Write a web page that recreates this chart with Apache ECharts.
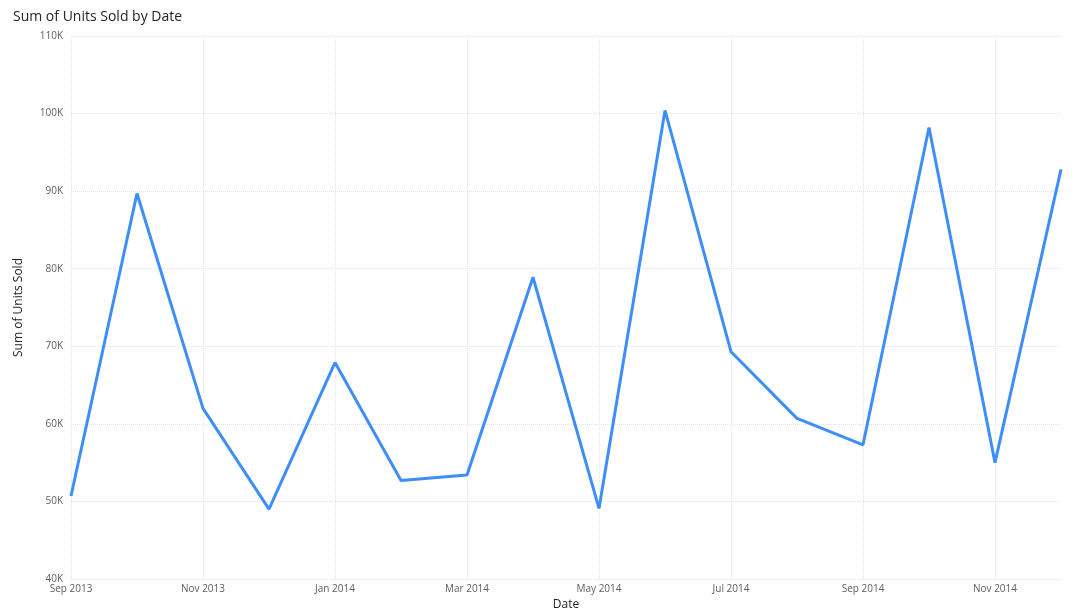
<!DOCTYPE html>
<html><head><meta charset="utf-8">
<script src="https://cdn.jsdelivr.net/npm/echarts@6/dist/echarts.min.js"></script>
<style>html,body{margin:0;padding:0;background:#fff}#c{width:1082px;height:616px}</style>
</head><body><div id="c"></div>
<script>
const categories = ['Sep 2013','Oct 2013','Nov 2013','Dec 2013','Jan 2014','Feb 2014','Mar 2014','Apr 2014','May 2014','Jun 2014','Jul 2014','Aug 2014','Sep 2014','Oct 2014','Nov 2014','Dec 2014'];
const unitsSold = [50700,89700,62000,49000,67900,52700,53400,78900,49100,100400,69300,60700,57300,98200,55000,92800];
const chart = echarts.init(document.getElementById('c'));
const font = 'Segoe UI, "Open Sans", "Noto Sans", sans-serif';
chart.setOption({
  animation:false,
  title:{text:'Sum of Units Sold by Date',left:8,top:5,textStyle:{fontSize:14,fontWeight:'normal',color:'#252423',fontFamily:font}},
  grid:{left:71,right:21,top:36,bottom:33},
  xAxis:{type:'category',data:categories,boundaryGap:false,name:'Date',nameLocation:'middle',nameGap:20,
    nameTextStyle:{fontSize:12,color:'#252423',fontFamily:font},
    axisLine:{show:false},axisTick:{show:false},
    axisLabel:{interval:1,fontSize:10,color:'#605e5c',margin:5,fontFamily:font},
    splitLine:{show:true,interval:1,lineStyle:{type:'dotted',color:'#e3e3e3'}}},
  yAxis:{type:'value',min:40000,max:110000,interval:10000,name:'Sum of Units Sold',nameLocation:'middle',nameGap:46,
    nameTextStyle:{fontSize:12,color:'#252423',fontFamily:font},
    axisLabel:{fontSize:10,color:'#605e5c',fontFamily:font,formatter:v=>(v/1000)+'K'},
    splitLine:{lineStyle:{type:'dotted',color:'#e3e3e3'}}},
  series:[{type:'line',data:unitsSold,symbol:'none',lineStyle:{width:3,color:'#3f8ef7'}}]
});
</script></body></html>
